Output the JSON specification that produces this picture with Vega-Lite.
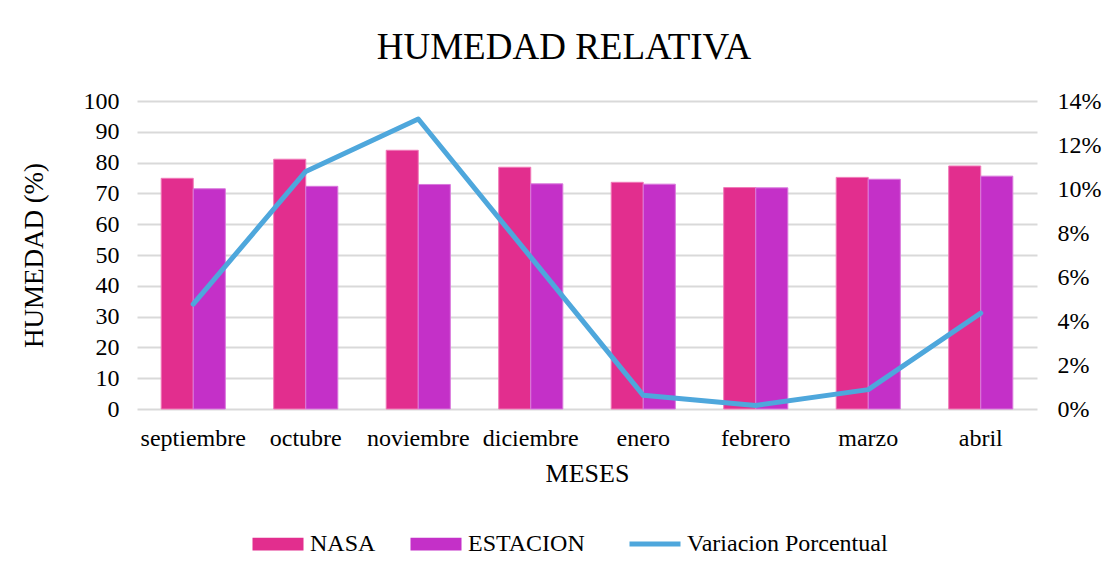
{
  "$schema": "https://vega.github.io/schema/vega-lite/v6.json",
  "width": 900,
  "height": 308,
  "autosize": {"type": "none"},
  "padding": {"left": 137, "top": 101, "right": 70, "bottom": 169},
  "background": "white",
  "config": {
    "font": "Liberation Serif",
    "view": {"stroke": null},
    "axis": {"labelFont": "Liberation Serif", "titleFont": "Liberation Serif", "labelColor": "#000000", "titleColor": "#000000", "titleFontWeight": "normal", "domain": false, "ticks": false},
    "legend": {"labelFont": "Liberation Serif", "labelColor": "#000000"}
  },
  "title": {
    "text": "HUMEDAD RELATIVA",
    "font": "Liberation Serif",
    "fontSize": 37,
    "fontWeight": "normal",
    "color": "#000000",
    "anchor": "middle",
    "frame": "group",
    "dx": -23,
    "baseline": "alphabetic",
    "offset": -7
  },
  "datasets": {
    "humedad": [
      {"mes": "septiembre", "serie": "NASA", "valor": 74.9},
      {"mes": "septiembre", "serie": "ESTACION", "valor": 71.5},
      {"mes": "octubre", "serie": "NASA", "valor": 81.1},
      {"mes": "octubre", "serie": "ESTACION", "valor": 72.3},
      {"mes": "noviembre", "serie": "NASA", "valor": 84.0},
      {"mes": "noviembre", "serie": "ESTACION", "valor": 72.9},
      {"mes": "diciembre", "serie": "NASA", "valor": 78.5},
      {"mes": "diciembre", "serie": "ESTACION", "valor": 73.1},
      {"mes": "enero", "serie": "NASA", "valor": 73.6},
      {"mes": "enero", "serie": "ESTACION", "valor": 73.0},
      {"mes": "febrero", "serie": "NASA", "valor": 71.9},
      {"mes": "febrero", "serie": "ESTACION", "valor": 71.8},
      {"mes": "marzo", "serie": "NASA", "valor": 75.2},
      {"mes": "marzo", "serie": "ESTACION", "valor": 74.6},
      {"mes": "abril", "serie": "NASA", "valor": 78.9},
      {"mes": "abril", "serie": "ESTACION", "valor": 75.6}
    ],
    "variacion": [
      {"mes": "septiembre", "serie": "Variacion Porcentual", "variacion": 0.0477},
      {"mes": "octubre", "serie": "Variacion Porcentual", "variacion": 0.108},
      {"mes": "noviembre", "serie": "Variacion Porcentual", "variacion": 0.1318},
      {"mes": "diciembre", "serie": "Variacion Porcentual", "variacion": 0.069},
      {"mes": "enero", "serie": "Variacion Porcentual", "variacion": 0.0062},
      {"mes": "febrero", "serie": "Variacion Porcentual", "variacion": 0.0016},
      {"mes": "marzo", "serie": "Variacion Porcentual", "variacion": 0.0088},
      {"mes": "abril", "serie": "Variacion Porcentual", "variacion": 0.0436}
    ]
  },
  "encoding": {
    "x": {
      "field": "mes",
      "type": "nominal",
      "sort": ["septiembre", "octubre", "noviembre", "diciembre", "enero", "febrero", "marzo", "abril"],
      "scale": {"paddingInner": 0.43, "paddingOuter": 0.215},
      "axis": {"title": "MESES", "labelAngle": 0, "labelFontSize": 24, "titleFontSize": 26, "labelPadding": 17, "titlePadding": 10, "grid": false}
    }
  },
  "layer": [
    {
      "data": {"name": "humedad"},
      "mark": {"type": "bar", "strokeWidth": 1},
      "encoding": {
        "xOffset": {"field": "serie", "type": "nominal", "sort": ["NASA", "ESTACION"], "scale": {"paddingInner": 0, "paddingOuter": 0}},
        "y": {
          "field": "valor",
          "type": "quantitative",
          "scale": {"domain": [0, 100]},
          "axis": {"title": "HUMEDAD (%)", "values": [0, 10, 20, 30, 40, 50, 60, 70, 80, 90, 100], "labelFontSize": 24, "titleFontSize": 27, "labelPadding": 18, "titlePadding": 35, "gridColor": "#d9d9d9", "gridWidth": 2}
        },
        "color": {
          "field": "serie",
          "type": "nominal",
          "scale": {"domain": ["NASA", "ESTACION", "Variacion Porcentual"], "range": ["#e22e8e", "#c430c8", "#4ea7dc"]},
          "legend": {
            "title": null,
            "orient": "none",
            "legendX": 129,
            "legendY": 431,
            "direction": "horizontal",
            "labelFont": "Liberation Serif",
            "labelFontSize": 24,
            "labelColor": "#000000",
            "labelLimit": 400,
            "labelOffset": 20,
            "columnPadding": 34,
            "symbolSize": 2601,
            "symbolType": "M-1,-0.25H1V0.25H-1Z",
            "encode": {
              "labels": {
                "update": {
                  "font": {"value": "Liberation Serif"}
                }
              },
              "symbols": {
                "update": {
                  "shape": {"signal": "datum.label === 'Variacion Porcentual' ? 'stroke' : 'M-1,-0.25H1V0.25H-1Z'"},
                  "fill": {"signal": "datum.label === 'Variacion Porcentual' ? 'transparent' : scale('color', datum.value)"},
                  "stroke": {"signal": "scale('color', datum.value)"},
                  "strokeWidth": {"signal": "datum.label === 'Variacion Porcentual' ? 5 : 0"},
                  "opacity": {"value": 1}
                }
              }
            }
          }
        },
        "stroke": {
          "field": "serie",
          "type": "nominal",
          "scale": {"domain": ["NASA", "ESTACION"], "range": ["#f07ab8", "#d978dc"]},
          "legend": null
        }
      }
    },
    {
      "data": {"name": "variacion"},
      "mark": {"type": "line", "strokeWidth": 5, "strokeCap": "round", "strokeJoin": "round"},
      "encoding": {
        "y": {
          "field": "variacion",
          "type": "quantitative",
          "scale": {"domain": [0, 0.14]},
          "axis": {"title": null, "orient": "right", "format": ".0%", "values": [0, 0.02, 0.04, 0.06, 0.08, 0.1, 0.12, 0.14], "labelFontSize": 24, "labelPadding": 20, "grid": false}
        },
        "color": {"field": "serie", "type": "nominal"}
      }
    }
  ],
  "resolve": {"scale": {"y": "independent"}}
}
